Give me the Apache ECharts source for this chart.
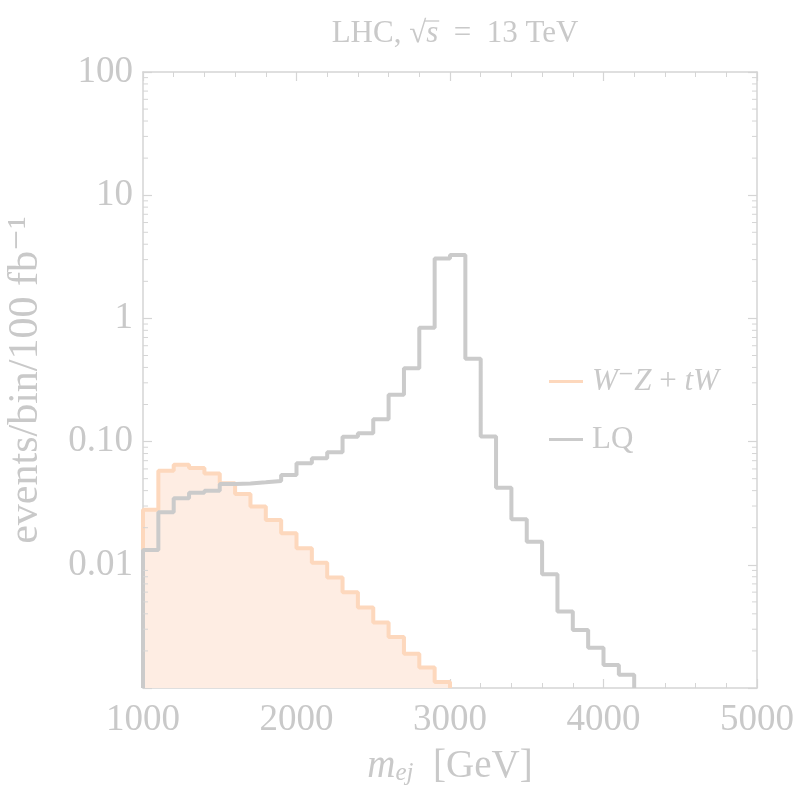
<!DOCTYPE html>
<html>
<head>
<meta charset="utf-8">
<script src="https://cdn.jsdelivr.net/npm/echarts@6/dist/echarts.min.js"></script>
<style>
  html, body { margin: 0; padding: 0; background: #ffffff; }
  #chart { width: 797px; height: 796px; }
</style>
</head>
<body>
<div id="chart"></div>
<script>
// Binned invariant-mass distributions, m_ej in GeV, 100 GeV bins (lower edges)
const binWidth = 100;
const bkgBinLow = [1000, 1100, 1200, 1300, 1400, 1500, 1600, 1700, 1800, 1900,
                   2000, 2100, 2200, 2300, 2400, 2500, 2600, 2700, 2800, 2900];
const bkgValues = [0.028, 0.058, 0.065, 0.061, 0.055, 0.046, 0.0376, 0.0297, 0.0231, 0.018,
                   0.0136, 0.0104, 0.0079, 0.0060, 0.0045, 0.0034, 0.0026, 0.0019, 0.00147, 0.00112];

const lqBinLow = [1000, 1100, 1200, 1300, 1400, 1500, 1600, 1700, 1800, 1900,
                  2000, 2100, 2200, 2300, 2400, 2500, 2600, 2700, 2800, 2900,
                  3000, 3100, 3200, 3300, 3400, 3500, 3600, 3700, 3800, 3900,
                  4000, 4100];
const lqValues = [0.0132, 0.0267, 0.0347, 0.0385, 0.040, 0.0453, 0.0458, 0.0467, 0.0479, 0.0536,
                  0.0667, 0.0731, 0.0818, 0.1096, 0.1167, 0.152, 0.24, 0.394, 0.841, 3.07,
                  3.27, 0.47, 0.11, 0.0423, 0.0234, 0.0154, 0.00838, 0.00417, 0.00296, 0.00212,
                  0.00154, 0.00128];

// Axis ranges and tick labels
const xMin = 1000, xMax = 5000, xStep = 1000;
const yMin = 0.001, yMax = 100;
const yTickValues = [0.01, 0.1, 1, 10, 100];
const yTickText = ['0.01', '0.10', '1', '10', '100'];

const TEXT = '#c9c9c9';
const FRAME = '#d5d5d5';
const SERIF = '"Liberation Serif", "DejaVu Serif", serif';

// Turn per-bin values into a closed step outline (rises from and returns to the axis floor)
function stepOutline(lows, vals) {
  const pts = [[lows[0], yMin]];
  for (let i = 0; i < lows.length; i++) pts.push([lows[i], vals[i]]);
  const end = lows[lows.length - 1] + binWidth;
  pts.push([end, vals[vals.length - 1]]);
  pts.push([end, yMin]);
  return pts;
}

// Log minor tick positions (2..9 per decade)
const minorTickVals = [];
for (let e = -3; e < 2; e++) for (let k = 2; k <= 9; k++) minorTickVals.push([k * Math.pow(10, e)]);

const chart = echarts.init(document.getElementById('chart'), null, { renderer: 'canvas' });

// Title with a radical over s: measure text pieces to place the overbar
const titleSize = 31;
const ctx = document.createElement('canvas').getContext('2d');
function w(t, italic) { ctx.font = (italic ? 'italic ' : '') + titleSize + 'px ' + SERIF; return ctx.measureText(t).width; }
const tA = 'LHC, \u221A', tS = 's', tB = '  =  13 TeV';
const titleW = w(tA) + w(tS, true) + w(tB);
const titleCx = 455, titleCy = 37;
const titleX0 = titleCx - titleW / 2;
const radW = w('\u221A');
const barX1 = titleX0 + w(tA) - radW * 0.08;
const barX2 = titleX0 + w(tA) + w(tS, true) + 1;

const option = {
  animation: false,
  backgroundColor: '#ffffff',
  textStyle: { fontFamily: SERIF },
  grid: { left: 143, right: 40, top: 72, bottom: 108, containLabel: false, outerBoundsMode: 'none' },
  legend: {
    orient: 'vertical',
    left: 544,
    top: 361,
    itemGap: 27,
    itemWidth: 34,
    itemHeight: 3,
    icon: 'rect',
    selectedMode: false,
    data: ['bkg', 'LQ'],
    formatter: function (name) {
      if (name === 'bkg') return '{i|W}{n|\u207B}{i|Z}{n| + }{i|tW}';
      return '{n|LQ}';
    },
    textStyle: {
      color: TEXT,
      fontFamily: SERIF,
      fontSize: 31,
      padding: [0, 0, 0, 4],
      rich: {
        i: { fontStyle: 'italic', fontFamily: SERIF, fontSize: 31, color: TEXT },
        n: { fontFamily: SERIF, fontSize: 31, color: TEXT }
      }
    }
  },
  xAxis: [
    {
      type: 'value', min: xMin, max: xMax, interval: xStep, position: 'bottom',
      axisLine: { show: true, lineStyle: { color: FRAME, width: 1.5 } },
      axisTick: { show: true, inside: true, length: 9, lineStyle: { color: FRAME, width: 1.2 } },
      minorTick: { show: true, splitNumber: 5, length: 5, lineStyle: { color: FRAME, width: 1 } },
      splitLine: { show: false },
      axisLabel: { color: TEXT, fontFamily: SERIF, fontSize: 37, margin: 14, formatter: function (v) { return String(v); } },
      name: '{m|m}{s|ej}{n|  [GeV]}',
      nameLocation: 'middle',
      nameGap: 54,
      nameTextStyle: {
        color: TEXT,
        rich: {
          m: { fontStyle: 'italic', fontFamily: SERIF, fontSize: 39, color: TEXT, verticalAlign: 'bottom', lineHeight: 44 },
          s: { fontStyle: 'italic', fontFamily: SERIF, fontSize: 25, color: TEXT, verticalAlign: 'bottom', lineHeight: 32 },
          n: { fontFamily: SERIF, fontSize: 39, color: TEXT, verticalAlign: 'bottom', lineHeight: 44 }
        }
      }
    },
    {
      type: 'value', min: xMin, max: xMax, interval: xStep, position: 'top',
      axisLine: { show: true, lineStyle: { color: FRAME, width: 1.5 } },
      axisTick: { show: true, inside: true, length: 9, lineStyle: { color: FRAME, width: 1.2 } },
      minorTick: { show: true, splitNumber: 5, length: 5, lineStyle: { color: FRAME, width: 1 } },
      splitLine: { show: false },
      axisLabel: { show: false }
    }
  ],
  yAxis: [
    {
      type: 'log', logBase: 10, min: yMin, max: yMax, position: 'left',
      axisLine: { show: true, lineStyle: { color: FRAME, width: 1.5 } },
      axisTick: { show: true, inside: true, length: 9, lineStyle: { color: FRAME, width: 1.2 } },
      splitLine: { show: false },
      axisLabel: {
        color: TEXT, fontFamily: SERIF, fontSize: 37, margin: 10,
        formatter: function (v) {
          for (let i = 0; i < yTickValues.length; i++) {
            if (Math.abs(Math.log10(v) - Math.log10(yTickValues[i])) < 1e-6) return yTickText[i];
          }
          return '';
        }
      },
      name: 'events/bin/100 fb\u207B\u00B9',
      nameLocation: 'middle',
      nameRotate: 90,
      nameGap: 96,
      nameTextStyle: { color: TEXT, fontFamily: SERIF, fontSize: 42 }
    },
    {
      type: 'log', logBase: 10, min: yMin, max: yMax, position: 'right',
      axisLine: { show: true, lineStyle: { color: FRAME, width: 1.5 } },
      axisTick: { show: true, inside: true, length: 9, lineStyle: { color: FRAME, width: 1.2 } },
      splitLine: { show: false },
      axisLabel: { show: false }
    }
  ],
  series: [
    {
      name: 'bkg',
      type: 'line',
      step: 'end',
      symbol: 'none',
      data: stepOutline(bkgBinLow, bkgValues),
      color: '#fdd8bd',
      lineStyle: { color: '#fdd8bd', width: 4 },
      areaStyle: { color: '#feede3', opacity: 1, origin: 'start' },
      z: 2
    },
    {
      name: 'LQ',
      type: 'line',
      step: 'end',
      symbol: 'none',
      data: stepOutline(lqBinLow, lqValues),
      color: '#cbcbcb',
      lineStyle: { color: '#cbcbcb', width: 4 },
      z: 3
    },
    {
      // log minor ticks on the left and right frame edges
      type: 'custom',
      silent: true,
      z: 5,
      data: minorTickVals,
      encode: { y: 0 },
      renderItem: function (params, api) {
        const v = api.value(0);
        const pL = api.coord([xMin, v]);
        const pR = api.coord([xMax, v]);
        const style = { stroke: FRAME, lineWidth: 1 };
        return {
          type: 'group',
          children: [
            { type: 'line', shape: { x1: pL[0], y1: pL[1], x2: pL[0] + 5, y2: pL[1] }, style: style },
            { type: 'line', shape: { x1: pR[0], y1: pR[1], x2: pR[0] - 5, y2: pR[1] }, style: style }
          ]
        };
      },
      clip: false
    }
  ],
  graphic: [
    {
      type: 'text',
      left: titleX0,
      top: titleCy - 19,
      style: {
        text: '{n|' + tA + '}{i|' + tS + '}{n|' + tB + '}',
        rich: {
          n: { fontFamily: SERIF, fontSize: titleSize, fill: TEXT },
          i: { fontFamily: SERIF, fontSize: titleSize, fontStyle: 'italic', fill: TEXT }
        }
      }
    },
    {
      type: 'line',
      shape: { x1: barX1, y1: titleCy - 16, x2: barX2, y2: titleCy - 16 },
      style: { stroke: TEXT, lineWidth: 1.3 }
    }
  ]
};

chart.setOption(option);
</script>
</body>
</html>
